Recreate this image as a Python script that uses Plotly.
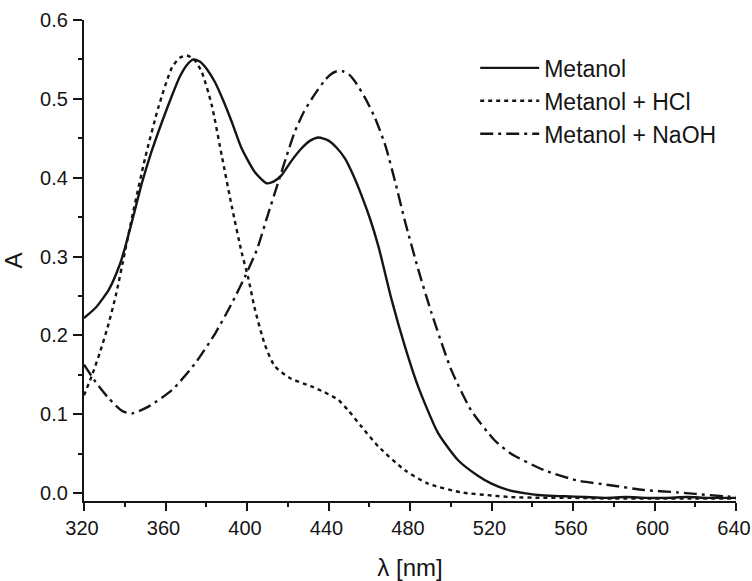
import plotly.graph_objects as go

# Metanol (solid)
wl_met = [320, 325.7, 332.2, 337.3, 339.9, 344, 348.5, 353, 358.3, 363, 367, 370.5, 373.7, 377, 380.5, 384.3, 388.5,
          392.5, 397.4, 403.9, 409.6, 413, 416.9, 422, 426.7, 431, 435.1, 440, 444, 448.2, 452, 456.3, 460.5, 464.5,
          471, 477.5, 484, 493.8, 503.5, 513.3, 520, 528, 536, 546, 556, 566, 576, 586, 596, 606, 616, 626, 636, 640]
a_met = [0.222, 0.235, 0.258, 0.288, 0.309, 0.349, 0.394, 0.432, 0.471, 0.503, 0.528, 0.543, 0.550, 0.547, 0.537, 0.521,
         0.497, 0.471, 0.437, 0.407, 0.393, 0.395, 0.403, 0.422, 0.437, 0.447, 0.451, 0.447, 0.438, 0.424, 0.404, 0.377,
         0.347, 0.313, 0.245, 0.186, 0.135, 0.076, 0.042, 0.022, 0.012, 0.004, 0.000, -0.003, -0.004, -0.005, -0.006,
         -0.005, -0.006, -0.006, -0.005, -0.006, -0.006, -0.006]

# Metanol + HCl (dotted)
wl_hcl = [320, 324, 328, 332, 336, 340, 344, 350, 356.6, 363.2, 367, 370.5, 374, 377.8, 382.7, 387.6, 392.5, 397.4,
          400.6, 403.9, 408.8, 413.6, 421, 431.9, 438, 444.9, 450, 456.3, 464.5, 477.5, 488.9, 505, 520, 529.6, 545,
          560, 580, 600, 620, 640]
a_hcl = [0.124, 0.150, 0.180, 0.214, 0.255, 0.305, 0.355, 0.425, 0.490, 0.540, 0.552, 0.555, 0.550, 0.534, 0.492, 0.428,
         0.364, 0.305, 0.273, 0.233, 0.188, 0.161, 0.146, 0.135, 0.128, 0.118, 0.104, 0.084, 0.059, 0.029, 0.012, 0.001,
         -0.003, -0.005, -0.006, -0.006, -0.007, -0.007, -0.007, -0.007]

# Metanol + NaOH (dash-dot)
wl_naoh = [320, 325.7, 332.2, 338.9, 343.6, 351.8, 363.3, 374.7, 384.5, 392.6, 399.1, 404.9, 410, 415.3, 419.5, 423.4,
           428, 433.3, 438, 441, 444.1, 447, 450, 453, 458, 462.8, 468, 473, 477.5, 484, 490.5, 500.3, 510, 521.5, 529.6,
           545.9, 562.2, 578.4, 594.7, 611, 620, 633.8, 640]
a_naoh = [0.163, 0.141, 0.120, 0.104, 0.101, 0.110, 0.131, 0.165, 0.203, 0.241, 0.275, 0.309, 0.351, 0.394, 0.428, 0.458,
          0.484, 0.506, 0.523, 0.531, 0.535, 0.535, 0.531, 0.522, 0.501, 0.476, 0.440, 0.392, 0.345, 0.284, 0.229, 0.156,
          0.105, 0.067, 0.050, 0.029, 0.016, 0.010, 0.004, 0.001, -0.001, -0.004, -0.005]

x_ticks = [320, 360, 400, 440, 480, 520, 560, 600, 640]
y_ticks = [0.0, 0.1, 0.2, 0.3, 0.4, 0.5, 0.6]
y_tick_text = ["0.0", "0.1", "0.2", "0.3", "0.4", "0.5", "0.6"]

ink = "#151515"
fig = go.Figure()
fig.add_trace(go.Scatter(x=wl_met, y=a_met, mode="lines", name="Metanol",
                         line=dict(color=ink, width=2.4, shape="spline", smoothing=0.6)))
fig.add_trace(go.Scatter(x=wl_hcl, y=a_hcl, mode="lines", name="Metanol + HCl",
                         line=dict(color=ink, width=2.4, dash="4px,4px", shape="spline", smoothing=0.6)))
fig.add_trace(go.Scatter(x=wl_naoh, y=a_naoh, mode="lines", name="Metanol + NaOH",
                         line=dict(color=ink, width=2.4, dash="13px,5px,3px,5px", shape="spline", smoothing=0.6)))

font = "Liberation Sans, Arial, sans-serif"
fig.update_layout(
    width=752, height=581,
    margin=dict(l=84, r=16, t=20, b=80),
    paper_bgcolor="white", plot_bgcolor="white",
    font=dict(family=font, color=ink),
    showlegend=True,
    legend=dict(x=0.6, y=0.945, xanchor="left", yanchor="top",
                font=dict(size=23, family=font, color=ink),
                bgcolor="rgba(0,0,0,0)", tracegroupgap=0, itemwidth=59),
    xaxis=dict(range=[320, 640], tickmode="array", tickvals=x_ticks, automargin=False,
               ticks="outside", ticklen=8, tickwidth=1.8, tickcolor=ink,
               showline=True, linecolor=ink, linewidth=2.2, mirror=False,
               showgrid=False, zeroline=False, ticklabelstandoff=0, ticklabelshift=-2,
               ticklabeloverflow="allow",
               minor=dict(ticks="outside", ticklen=4, tickwidth=1.8, tickcolor=ink, dtick=20, tick0=320, showgrid=False),
               tickfont=dict(size=20, family=font, color=ink),
               title=dict(text="λ [nm]", font=dict(size=24, family=font, color=ink), standoff=25)),
    yaxis=dict(range=[-0.01, 0.6], tickmode="array", tickvals=y_ticks, ticktext=y_tick_text, automargin=False,
               ticks="outside", ticklen=9, tickwidth=1.8, tickcolor=ink,
               showline=True, linecolor=ink, linewidth=2.2, mirror=False,
               showgrid=False, zeroline=False, ticklabelstandoff=1, ticklabeloverflow="allow",
               minor=dict(ticks="outside", ticklen=4, tickwidth=1.8, tickcolor=ink, dtick=0.05, tick0=0, showgrid=False),
               tickfont=dict(size=20, family=font, color=ink),
               title=dict(text="A", font=dict(size=24, family=font, color=ink), standoff=11)),
)

fig.write_html("out.html", config={"displayModeBar": False},
               post_script="document.body.style.margin='0px';")
